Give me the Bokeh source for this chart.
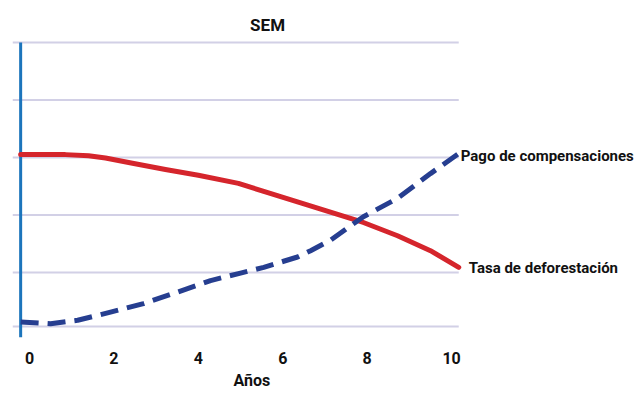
from bokeh.plotting import figure
from bokeh.models import Range1d, FixedTicker, Label, Title
from bokeh.embed import file_html
from bokeh.resources import INLINE

# ---- data ----
tasa_x = [-0.21, 0.85, 1.40, 1.80, 2.44, 3.22, 4.00, 4.95, 5.55, 6.35, 7.13, 7.91, 8.72, 9.50, 10.17]
tasa_y = [3.05, 3.05, 3.03, 2.99, 2.90, 2.79, 2.69, 2.55, 2.41, 2.23, 2.05, 1.87, 1.64, 1.38, 1.09]

pago_x = [-0.21, 0.50, 1.14, 1.92, 2.70, 3.51, 4.29, 5.00, 5.55, 6.35, 6.66, 7.13, 7.91, 8.72, 9.50, 10.17]
pago_y = [0.14, 0.11, 0.17, 0.31, 0.46, 0.66, 0.86, 0.99, 1.09, 1.27, 1.38, 1.56, 1.97, 2.29, 2.72, 3.07]

x_ticks = [0, 2, 4, 6, 8, 10]
y_grid = [0.06, 1, 2, 3, 4, 5]

title_text = "SEM"
x_label = "Años"
pago_label = "Pago de compensaciones"
tasa_label = "Tasa de deforestación"

FONT = "Roboto"
RED = "#D5252C"
NAVY = "#263E90"
AXBLUE = "#1C75BC"
GRID = "#D2D0E6"
INK = "#111111"

xr = Range1d(-0.403, 14.50)
yr = Range1d(-0.13, 5.73)
p = figure(width=641, height=393, output_backend="svg", toolbar_location=None,
           x_range=xr, y_range=yr,
           min_border_left=12, min_border_right=0, min_border_top=0, min_border_bottom=56)
p.outline_line_color = None
p.background_fill_color = "white"
p.border_fill_color = "white"

p.yaxis.visible = False
p.xgrid.visible = False
p.ygrid.visible = False

p.xaxis.ticker = FixedTicker(ticks=x_ticks)
p.xaxis.axis_line_color = None
p.xaxis.major_tick_line_color = None
p.xaxis.minor_tick_line_color = None
p.xaxis.major_label_standoff = 8
p.xaxis.major_label_text_font = FONT
p.xaxis.major_label_text_font_style = "bold"
p.xaxis.major_label_text_font_size = "16px"
p.xaxis.major_label_text_color = INK

# horizontal grid lines, spanning the plotted years
p.segment(x0=[xr.start] * len(y_grid), x1=[max(tasa_x)] * len(y_grid), y0=y_grid, y1=y_grid,
          line_color=GRID, line_width=2)
# vertical axis line at the first year
p.segment(x0=[min(tasa_x)], x1=[min(tasa_x)], y0=[yr.start], y1=[max(y_grid)],
          line_color=AXBLUE, line_width=3)

p.line(tasa_x, tasa_y, line_color=RED, line_width=5, line_join="round", line_cap="round")
p.line(pago_x, pago_y, line_color=NAVY, line_width=5, line_dash="18 9", line_join="round")

p.add_layout(Label(x=pago_x[-1], y=pago_y[-1], text=pago_label, x_offset=2, y_offset=-3,
                   text_baseline="middle", text_font=FONT, text_font_style="bold",
                   text_font_size="15px", text_color=INK))
p.add_layout(Label(x=tasa_x[-1], y=tasa_y[-1], text=tasa_label, x_offset=10, y_offset=-1,
                   text_baseline="middle", text_font=FONT, text_font_style="bold",
                   text_font_size="15px", text_color=INK))

p.add_layout(Label(x=5.64, y=5.30, text=title_text, text_align="center", text_baseline="middle",
                   text_font=FONT, text_font_style="bold", text_font_size="17px", text_color=INK))

p.add_layout(Title(text=x_label, align="left", offset=221, standoff=4,
                   text_font=FONT, text_font_style="bold", text_font_size="16px",
                   text_color=INK), "below")

open("out.html", "w").write(file_html(p, INLINE))
